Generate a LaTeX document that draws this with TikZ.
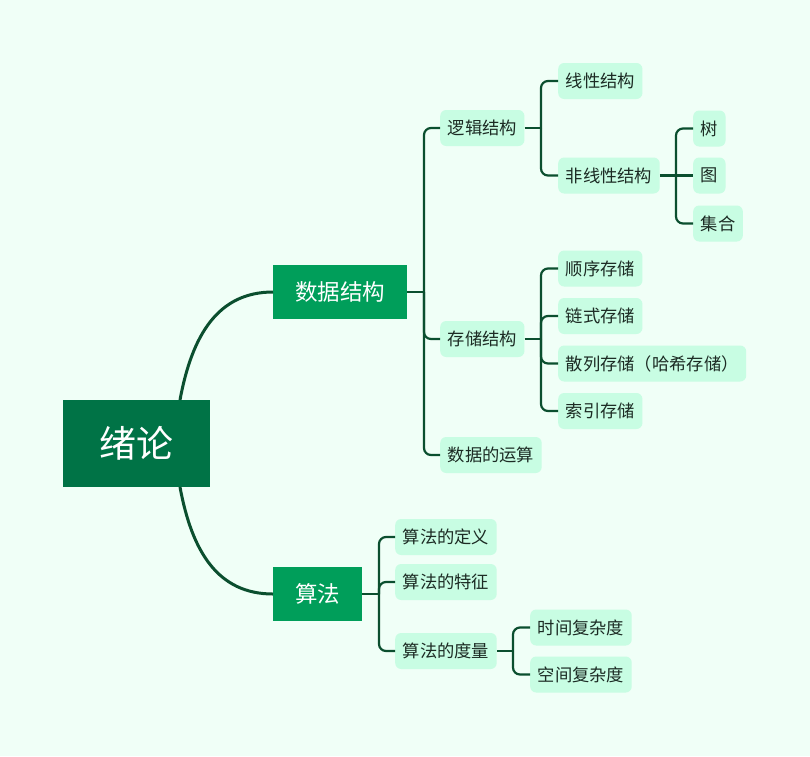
\documentclass[tikz,border=0pt]{standalone}
\usepackage{fontspec}
\newfontfamily\cjk{Noto Sans CJK SC}
\usepackage{xcolor}
\definecolor{bg}{HTML}{F0FFF7}
\definecolor{rootgreen}{HTML}{007346}
\definecolor{topicgreen}{HTML}{009E5A}
\definecolor{leafmint}{HTML}{C8FDE3}
\definecolor{linegreen}{HTML}{0B4F2F}
\definecolor{inkgray}{HTML}{1C2B24}
\tikzset{
    rootbox/.style ={rectangle, fill=rootgreen, text=white, inner sep=0pt,
                     minimum width=147pt, minimum height=87pt, font=\cjk\fontsize{37}{42}\selectfont},
    topicbox/.style={rectangle, fill=topicgreen, text=white, inner xsep=22pt,
                     minimum height=54pt, font=\cjk\fontsize{22.5}{26}\selectfont},
    leafbox/.style ={rectangle, rounded corners=6pt, fill=leafmint, text=inkgray, inner xsep=7.5pt,
                     minimum height=36pt, font=\cjk\fontsize{17.3}{20}\selectfont},
    trunk/.style   ={draw=linegreen, line width=3pt},
    twig/.style    ={draw=linegreen, line width=2.2pt, rounded corners=7pt}
}
\begin{document}
\begin{tikzpicture}[x=1pt,y=-1pt]
        \fill[bg] (0,0) rectangle (810,756);
        % root and main topics
        \node[rootbox] (root) at (136.5,443.5) {绪论};
        \node[topicbox,anchor=west] (ds) at (273,292) {数据结构};
        \node[topicbox,anchor=west] (algo) at (273,594) {算法};
        % data structure branch
        \node[leafbox,anchor=west] (logic) at (440,128) {逻辑结构};
        \node[leafbox,anchor=west] (store) at (440,339) {存储结构};
        \node[leafbox,anchor=west] (ops) at (440,455) {数据的运算};
        \node[leafbox,anchor=west] (linear) at (558,81) {线性结构};
        \node[leafbox,anchor=west] (nonlin) at (558,175.5) {非线性结构};
        \node[leafbox,anchor=west] (tree) at (693,128.5) {树};
        \node[leafbox,anchor=west] (graph) at (693,175.5) {图};
        \node[leafbox,anchor=west] (set) at (693,223.5) {集合};
        \node[leafbox,anchor=west] (seq) at (558,268.5) {顺序存储};
        \node[leafbox,anchor=west] (chain) at (558,316) {链式存储};
        \node[leafbox,anchor=west] (hash) at (558,363.5) {散列存储（哈希存储）};
        \node[leafbox,anchor=west] (index) at (558,411) {索引存储};
        % algorithm branch
        \node[leafbox,anchor=west] (def) at (395,537) {算法的定义};
        \node[leafbox,anchor=west] (feat) at (395,582) {算法的特征};
        \node[leafbox,anchor=west] (measure) at (395,651) {算法的度量};
        \node[leafbox,anchor=west] (timec) at (530,627.5) {时间复杂度};
        \node[leafbox,anchor=west] (spacec) at (530,674.5) {空间复杂度};
        % junctions
        \coordinate (rtop) at (180,400);
        \coordinate (rbot) at (180,487);
        \coordinate (jds) at (424,292);
        \coordinate (jlogic) at (541,128);
        \coordinate (jnon) at (676,175.5);
        \coordinate (jstore) at (541,339);
        \coordinate (jalgo) at (379,594);
        \coordinate (jmeas) at (513,651);
        % connectors
        \draw[trunk] (rtop) .. controls (192,335) and (218,292) .. (ds.west);
        \draw[trunk] (rbot) .. controls (192,552) and (218,594) .. (algo.west);
        \draw[twig] (ds.east) -- (jds);
        \foreach \c in {logic,store,ops} \draw[twig] (jds) |- (\c.west);
        \draw[twig] (logic.east) -- (jlogic);
        \foreach \c in {linear,nonlin} \draw[twig] (jlogic) |- (\c.west);
        \draw[twig] (nonlin.east) -- (graph.west);
        \foreach \c in {tree,set} \draw[twig] (jnon) |- (\c.west);
        \draw[twig] (store.east) -- (jstore);
        \foreach \c in {seq,chain,hash,index} \draw[twig] (jstore) |- (\c.west);
        \draw[twig] (algo.east) -- (jalgo);
        \foreach \c in {def,feat,measure} \draw[twig] (jalgo) |- (\c.west);
        \draw[twig] (measure.east) -- (jmeas);
        \foreach \c in {timec,spacec} \draw[twig] (jmeas) |- (\c.west);
    \end{tikzpicture}
\end{document}
